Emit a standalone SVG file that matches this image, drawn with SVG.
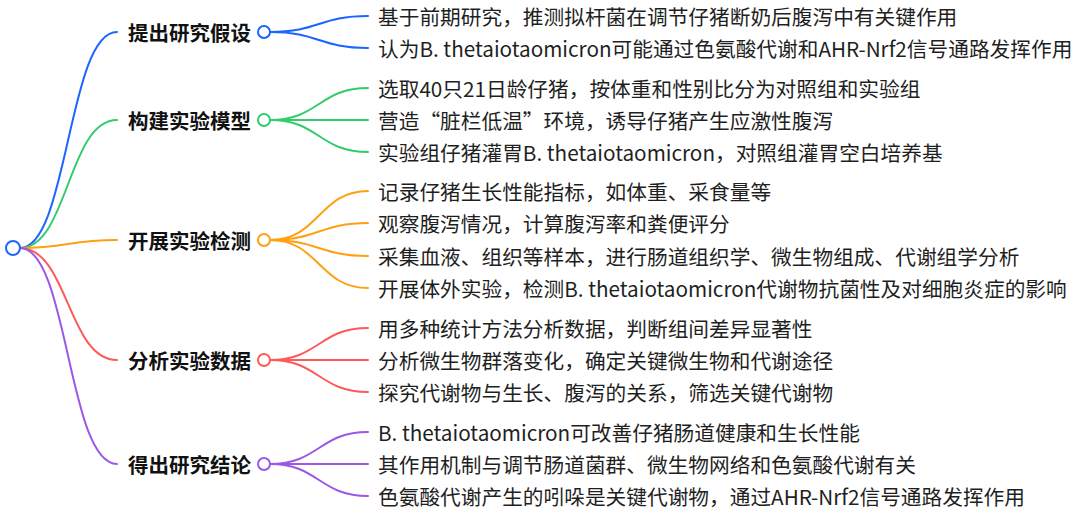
<svg xmlns="http://www.w3.org/2000/svg" width="1080" height="514" viewBox="0 0 1080 514">
<style>
.leaf{font-family:"Noto Sans CJK SC","Noto Sans",sans-serif;font-size:20.7px;fill:#1f1f1f;dominant-baseline:central}
.br{font-family:"Noto Sans CJK SC","Noto Sans",sans-serif;font-size:20.5px;font-weight:bold;fill:#111;dominant-baseline:central}
.c{fill:none;stroke-width:2;stroke-linecap:round}
.blue{stroke:#1a66ff}.green{stroke:#33cc6e}.orange{stroke:#ffa012}.red{stroke:#ff5a5a}.purple{stroke:#9b59e6}
.dot{fill:#fff;stroke-width:2}
</style>
<rect width="1080" height="514" fill="#fff"/>
<g id="connectors">
<path class="c blue" d="M20 248 C68 248 68 32 117 32"/>
<path class="c green" d="M20 248 C68 248 68 120 117 120"/>
<path class="c orange" d="M20 248 C68 248 68 240 117 240"/>
<path class="c red" d="M20 248 C68 248 68 360 117 360"/>
<path class="c purple" d="M20 248 C68 248 68 464 117 464"/>
<path class="c blue" d="M270 32 C319 32 319 16 368 16"/>
<path class="c blue" d="M270 32 C319 32 319 48 368 48"/>
<path class="c green" d="M270 120 C319 120 319 88 368 88"/>
<path class="c green" d="M270 120 L368 120"/>
<path class="c green" d="M270 120 C319 120 319 152 368 152"/>
<path class="c orange" d="M270 240 C319 240 319 191 368 191"/>
<path class="c orange" d="M270 240 C319 240 319 223 368 223"/>
<path class="c orange" d="M270 240 C319 240 319 256 368 256"/>
<path class="c orange" d="M270 240 C319 240 319 288 368 288"/>
<path class="c red" d="M270 360 C319 360 319 328 368 328"/>
<path class="c red" d="M270 360 L368 360"/>
<path class="c red" d="M270 360 C319 360 319 392 368 392"/>
<path class="c purple" d="M270 464 C319 464 319 432 368 432"/>
<path class="c purple" d="M270 464 L368 464"/>
<path class="c purple" d="M270 464 C319 464 319 496 368 496"/>
</g>
<g id="root"><circle class="dot" cx="13" cy="248" r="7" stroke="#1a66ff"/></g>
<g id="b1"><text class="br" x="128" y="32">提出研究假设</text><circle class="dot" cx="264" cy="32" r="6" stroke="#1a66ff"/></g>
<g id="b2"><text class="br" x="128" y="120">构建实验模型</text><circle class="dot" cx="264" cy="120" r="6" stroke="#33cc6e"/></g>
<g id="b3"><text class="br" x="128" y="240">开展实验检测</text><circle class="dot" cx="264" cy="240" r="6" stroke="#ffa012"/></g>
<g id="b4"><text class="br" x="128" y="360">分析实验数据</text><circle class="dot" cx="264" cy="360" r="6" stroke="#ff5a5a"/></g>
<g id="b5"><text class="br" x="128" y="464">得出研究结论</text><circle class="dot" cx="264" cy="464" r="6" stroke="#9b59e6"/></g>
<g id="l1"><text class="leaf" x="378" y="16">基于前期研究，推测拟杆菌在调节仔猪断奶后腹泻中有关键作用</text></g>
<g id="l2"><text class="leaf" x="378" y="48">认为B. thetaiotaomicron可能通过色氨酸代谢和AHR-Nrf2信号通路发挥作用</text></g>
<g id="l3"><text class="leaf" x="378" y="88">选取40只21日龄仔猪，按体重和性别比分为对照组和实验组</text></g>
<g id="l4"><text class="leaf" x="378" y="120">营造“脏栏低温”环境，诱导仔猪产生应激性腹泻</text></g>
<g id="l5"><text class="leaf" x="378" y="152">实验组仔猪灌胃B. thetaiotaomicron，对照组灌胃空白培养基</text></g>
<g id="l6"><text class="leaf" x="378" y="191">记录仔猪生长性能指标，如体重、采食量等</text></g>
<g id="l7"><text class="leaf" x="378" y="223">观察腹泻情况，计算腹泻率和粪便评分</text></g>
<g id="l8"><text class="leaf" x="378" y="256">采集血液、组织等样本，进行肠道组织学、微生物组成、代谢组学分析</text></g>
<g id="l9"><text class="leaf" x="378" y="288">开展体外实验，检测B. thetaiotaomicron代谢物抗菌性及对细胞炎症的影响</text></g>
<g id="l10"><text class="leaf" x="378" y="328">用多种统计方法分析数据，判断组间差异显著性</text></g>
<g id="l11"><text class="leaf" x="378" y="360">分析微生物群落变化，确定关键微生物和代谢途径</text></g>
<g id="l12"><text class="leaf" x="378" y="392">探究代谢物与生长、腹泻的关系，筛选关键代谢物</text></g>
<g id="l13"><text class="leaf" x="378" y="432">B. thetaiotaomicron可改善仔猪肠道健康和生长性能</text></g>
<g id="l14"><text class="leaf" x="378" y="464">其作用机制与调节肠道菌群、微生物网络和色氨酸代谢有关</text></g>
<g id="l15"><text class="leaf" x="378" y="496">色氨酸代谢产生的吲哚是关键代谢物，通过AHR-Nrf2信号通路发挥作用</text></g>
</svg>
